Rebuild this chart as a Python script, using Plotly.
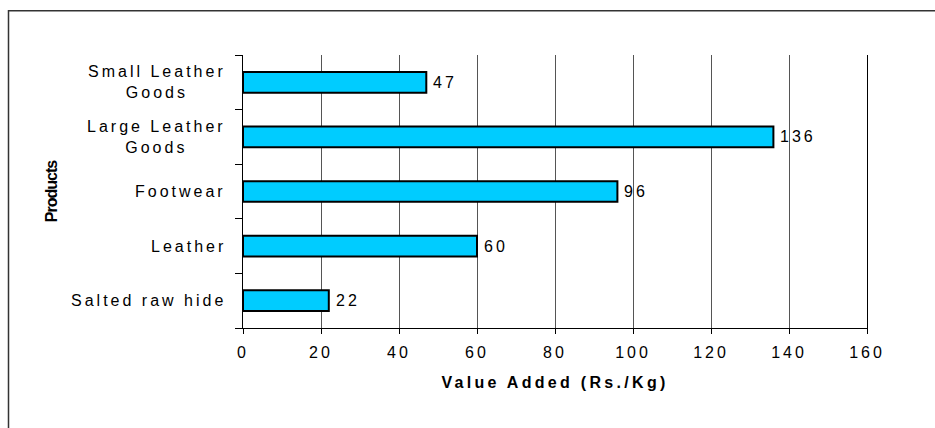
import plotly.graph_objects as go

# ---- data (bottom to top, as Plotly draws categories) ----
categories = ["Salted raw hide", "Leather", "Footwear", "Large Leather Goods", "Small Leather Goods"]
category_labels = ["Salted raw hide", "Leather", "Footwear", "Large Leather<br>Goods", "Small Leather<br>Goods"]
values = [22, 60, 96, 136, 47]
x_ticks = [0, 20, 40, 60, 80, 100, 120, 140, 160]
x_tick_labels = ["0", "20", "40", "60", "80", "100", "120", "140", "160"]
x_title = "Value Added (Rs./Kg)"
y_title = "Products"

FONT = "Liberation Sans, Arial, sans-serif"
TXT = "#000000"


def spaced(s, sp=3.0):
    return "<br>".join(
        f"<span style='letter-spacing:{sp}px'>{line}</span>" for line in s.split("<br>")
    )


W, H = 935, 428
ML, MR, MT, MB = 243, 68, 55, 100
PW, PH = W - ML - MR, H - MT - MB

fig = go.Figure()
fig.add_trace(
    go.Bar(
        x=values,
        y=categories,
        orientation="h",
        marker=dict(color="#00CCFF", line=dict(color="#000000", width=2)),
        hoverinfo="x+y",
    )
)

annotations = []
for cat, lab in zip(categories, category_labels):
    annotations.append(
        dict(
            x=0, y=cat, xref="x", yref="y",
            xanchor="right", yanchor="middle", xshift=-15,
            align="center", showarrow=False,
            text=spaced(lab),
            font=dict(family=FONT, size=16, color=TXT),
        )
    )
for cat, v in zip(categories, values):
    annotations.append(
        dict(
            x=v, y=cat, xref="x", yref="y",
            xanchor="left", yanchor="middle", xshift=5,
            showarrow=False,
            text=spaced(str(v)),
            font=dict(family=FONT, size=16, color=TXT),
        )
    )

fig.update_layout(
    width=W, height=H,
    margin=dict(l=ML, r=MR, t=MT, b=MB, pad=0),
    paper_bgcolor="white", plot_bgcolor="white",
    bargap=0.62,
    showlegend=False,
    font=dict(family=FONT, size=16, color=TXT),
    annotations=annotations,
    xaxis=dict(
        range=[0, 160],
        tickmode="array",
        tickvals=x_ticks,
        ticktext=[spaced(t) for t in x_tick_labels],
        ticks="outside", ticklen=5, tickcolor="#000000", tickwidth=1,
        ticklabelstandoff=5,
        showline=True, linecolor="#000000", linewidth=1,
        showgrid=True, gridcolor="#555555", gridwidth=1,
        zeroline=False,
        tickfont=dict(family=FONT, size=16, color=TXT),
        title=dict(
            text=spaced(x_title, 3.3),
            font=dict(family=FONT, size=16, color=TXT, weight="bold"),
            standoff=16,
        ),
    ),
    yaxis=dict(
        type="category",
        range=[-0.5, 4.5],
        tickson="boundaries",
        ticks="outside", ticklen=7, tickcolor="#000000", tickwidth=1,
        showticklabels=False,
        showline=True, mirror=True, linecolor="#000000", linewidth=1,
        showgrid=False, zeroline=False,
        title=dict(
            text=f"<span style='letter-spacing:-1px'>{y_title}</span>",
            font=dict(family=FONT, size=16, color=TXT, weight="bold"),
            standoff=180,
        ),
    ),
    shapes=[
        dict(
            type="rect", xref="paper", yref="paper",
            x0=(8.5 - ML) / PW, x1=(W + 20 - ML) / PW,
            y0=(PH + MT - (H + 20)) / PH, y1=(PH + MT - 10.7) / PH,
            line=dict(color="#333333", width=1.5),
            fillcolor="rgba(0,0,0,0)",
            layer="below",
        )
    ],
)

fig.write_html("out.html")
